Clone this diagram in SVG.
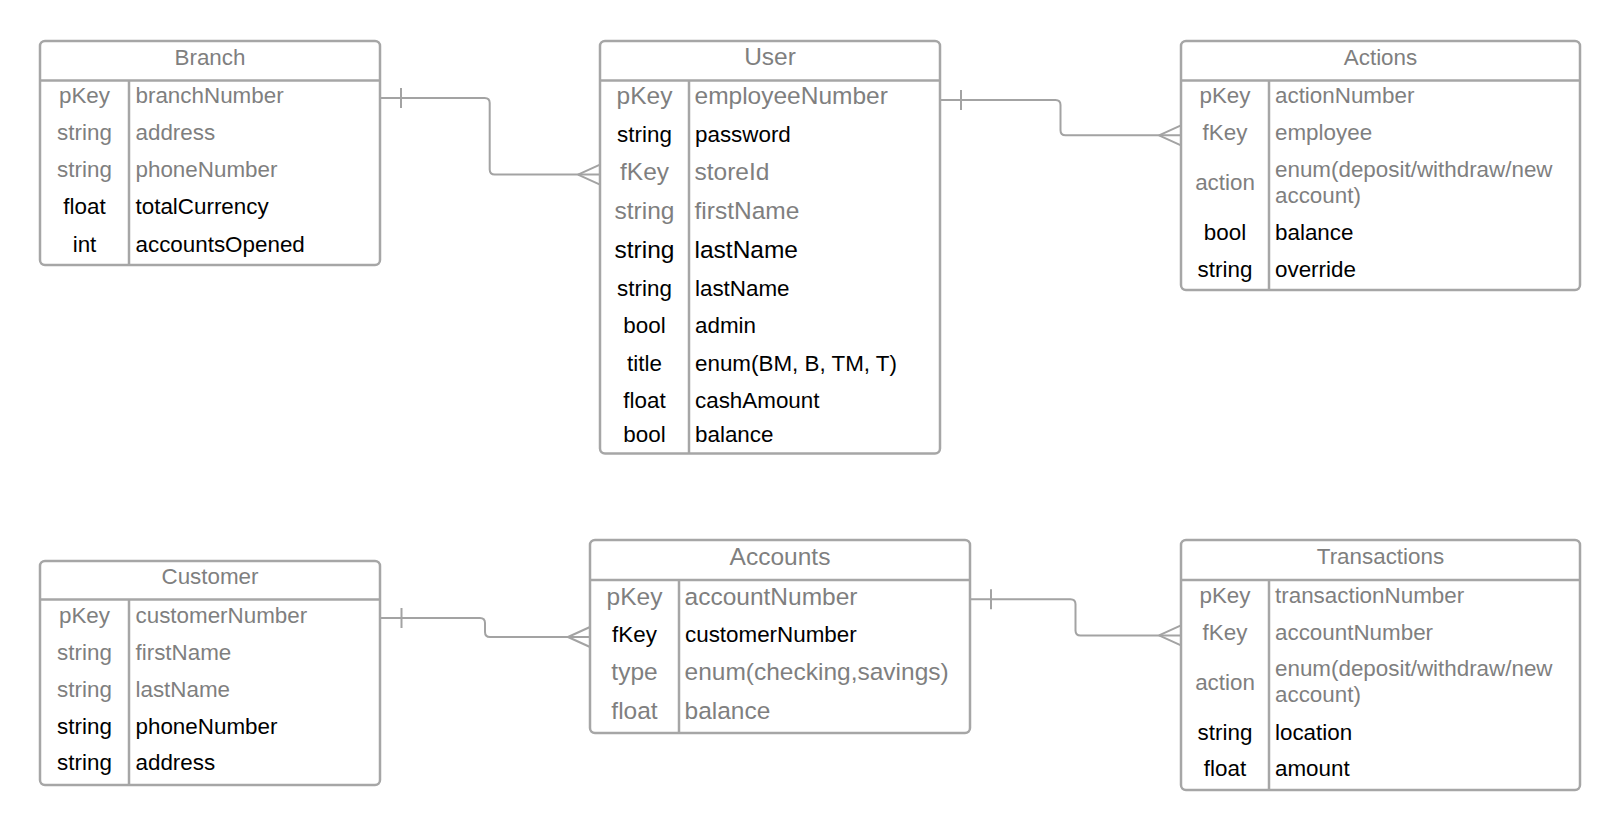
<svg xmlns="http://www.w3.org/2000/svg" width="1620" height="831" viewBox="0 0 1620 831">
<style>
text{font-family:"Liberation Sans",Arial,sans-serif}
.box{fill:#fff;stroke:#a6a6a6;stroke-width:2.5}
.ln{stroke:#a6a6a6;stroke-width:2.5;fill:none}
.conn{fill:none;stroke:#a3a3a3;stroke-width:2}
.g{fill:#7f7f7f}
.k{fill:#000}
.s22{font-size:22.4px}
.s24{font-size:24.5px}
.c{text-anchor:middle}
</style>
<rect width="1620" height="831" fill="#fff"/>

<g id="connectors">
<path class="conn" d="M380,98 H484.7 Q489.7,98 489.7,103 V169.6 Q489.7,174.6 494.7,174.6 H600"/>
<path class="conn" d="M401,88 V108"/>
<path class="conn" d="M578,174.6 L600,164.6 M578,174.6 L600,184.6"/>

<path class="conn" d="M940,100 H1055.5 Q1060.5,100 1060.5,105 V130.3 Q1060.5,135.3 1065.5,135.3 H1181"/>
<path class="conn" d="M961,90 V110"/>
<path class="conn" d="M1159,135.3 L1181,125.3 M1159,135.3 L1181,145.3"/>

<path class="conn" d="M380,618 H480 Q485,618 485,623 V632 Q485,637 490,637 H590"/>
<path class="conn" d="M401.5,608 V628"/>
<path class="conn" d="M568,637 L590,627 M568,637 L590,647"/>

<path class="conn" d="M970,599.3 H1070.5 Q1075.5,599.3 1075.5,604.3 V630.4 Q1075.5,635.4 1080.5,635.4 H1181"/>
<path class="conn" d="M991,589.3 V609.3"/>
<path class="conn" d="M1159,635.4 L1181,625.4 M1159,635.4 L1181,645.4"/>
</g>

<g id="branch">
<rect class="box" x="40" y="41" width="340" height="224" rx="5"/>
<path class="ln" d="M40,80.5 H380 M129,80.5 V265"/>
<text class="g s22 c" x="210" y="64.5">Branch</text>
<text class="g s22 c" x="84.5" y="102.8">pKey</text><text class="g s22" x="135.5" y="102.8">branchNumber</text>
<text class="g s22 c" x="84.5" y="140">string</text><text class="g s22" x="135.5" y="140">address</text>
<text class="g s22 c" x="84.5" y="177.2">string</text><text class="g s22" x="135.5" y="177.2">phoneNumber</text>
<text class="k s22 c" x="84.5" y="214.3">float</text><text class="k s22" x="135.5" y="214.3">totalCurrency</text>
<text class="k s22 c" x="84.5" y="251.5">int</text><text class="k s22" x="135.5" y="251.5">accountsOpened</text>
</g>

<g id="user">
<rect class="box" x="600" y="41" width="340" height="412.5" rx="5"/>
<path class="ln" d="M600,80.5 H940 M689,80.5 V453.5"/>
<text class="g s24 c" x="770" y="65">User</text>
<text class="g s24 c" x="644.5" y="104">pKey</text><text class="g s24" x="694.5" y="104">employeeNumber</text>
<text class="k s22 c" x="644.5" y="141.5">string</text><text class="k s22" x="695" y="141.5">password</text>
<text class="g s24 c" x="644.5" y="180">fKey</text><text class="g s24" x="694.5" y="180">storeId</text>
<text class="g s24 c" x="644.5" y="218.5">string</text><text class="g s24" x="694.5" y="218.5">firstName</text>
<text class="k s24 c" x="644.5" y="258">string</text><text class="k s24" x="694.5" y="258">lastName</text>
<text class="k s22 c" x="644.5" y="296">string</text><text class="k s22" x="695" y="296">lastName</text>
<text class="k s22 c" x="644.5" y="333">bool</text><text class="k s22" x="695" y="333">admin</text>
<text class="k s22 c" x="644.5" y="370.5">title</text><text class="k s22" x="695" y="370.5">enum(BM, B, TM, T)</text>
<text class="k s22 c" x="644.5" y="407.5">float</text><text class="k s22" x="695" y="407.5">cashAmount</text>
<text class="k s22 c" x="644.5" y="442">bool</text><text class="k s22" x="695" y="442">balance</text>
</g>

<g id="actions">
<rect class="box" x="1181" y="41" width="399" height="249" rx="5"/>
<path class="ln" d="M1181,80.5 H1580 M1269,80.5 V290"/>
<text class="g s22 c" x="1380.5" y="64.5">Actions</text>
<text class="g s22 c" x="1225" y="103">pKey</text><text class="g s22" x="1275" y="103">actionNumber</text>
<text class="g s22 c" x="1225" y="140">fKey</text><text class="g s22" x="1275" y="140">employee</text>
<text class="g s22 c" x="1225" y="190">action</text><text class="g s22" x="1275" y="177">enum(deposit/withdraw/new</text><text class="g s22" x="1275" y="203">account)</text>
<text class="k s22 c" x="1225" y="240">bool</text><text class="k s22" x="1275" y="240">balance</text>
<text class="k s22 c" x="1225" y="276.5">string</text><text class="k s22" x="1275" y="276.5">override</text>
</g>

<g id="customer">
<rect class="box" x="40" y="561" width="340" height="224" rx="5"/>
<path class="ln" d="M40,599.5 H380 M129,599.5 V785"/>
<text class="g s22 c" x="210" y="584">Customer</text>
<text class="g s22 c" x="84.5" y="623">pKey</text><text class="g s22" x="135.5" y="623">customerNumber</text>
<text class="g s22 c" x="84.5" y="660">string</text><text class="g s22" x="135.5" y="660">firstName</text>
<text class="g s22 c" x="84.5" y="697">string</text><text class="g s22" x="135.5" y="697">lastName</text>
<text class="k s22 c" x="84.5" y="733.5">string</text><text class="k s22" x="135.5" y="733.5">phoneNumber</text>
<text class="k s22 c" x="84.5" y="769.5">string</text><text class="k s22" x="135.5" y="769.5">address</text>
</g>

<g id="accounts">
<rect class="box" x="590" y="540" width="380" height="193" rx="5"/>
<path class="ln" d="M590,580 H970 M679,580 V733"/>
<text class="g s24 c" x="780" y="565">Accounts</text>
<text class="g s24 c" x="634.5" y="604.5">pKey</text><text class="g s24" x="684.5" y="604.5">accountNumber</text>
<text class="k s22 c" x="634.5" y="641.7">fKey</text><text class="k s22" x="685" y="641.7">customerNumber</text>
<text class="g s24 c" x="634.5" y="679.5">type</text><text class="g s24" x="684.5" y="679.5">enum(checking,savings)</text>
<text class="g s24 c" x="634.5" y="718.5">float</text><text class="g s24" x="684.5" y="718.5">balance</text>
</g>

<g id="transactions">
<rect class="box" x="1181" y="540" width="399" height="250" rx="5"/>
<path class="ln" d="M1181,580 H1580 M1269,580 V790"/>
<text class="g s22 c" x="1380.5" y="563.5">Transactions</text>
<text class="g s22 c" x="1225" y="602.7">pKey</text><text class="g s22" x="1275" y="602.7">transactionNumber</text>
<text class="g s22 c" x="1225" y="640">fKey</text><text class="g s22" x="1275" y="640">accountNumber</text>
<text class="g s22 c" x="1225" y="689.5">action</text><text class="g s22" x="1275" y="676">enum(deposit/withdraw/new</text><text class="g s22" x="1275" y="702">account)</text>
<text class="k s22 c" x="1225" y="739.5">string</text><text class="k s22" x="1275" y="739.5">location</text>
<text class="k s22 c" x="1225" y="775.5">float</text><text class="k s22" x="1275" y="775.5">amount</text>
</g>
</svg>
